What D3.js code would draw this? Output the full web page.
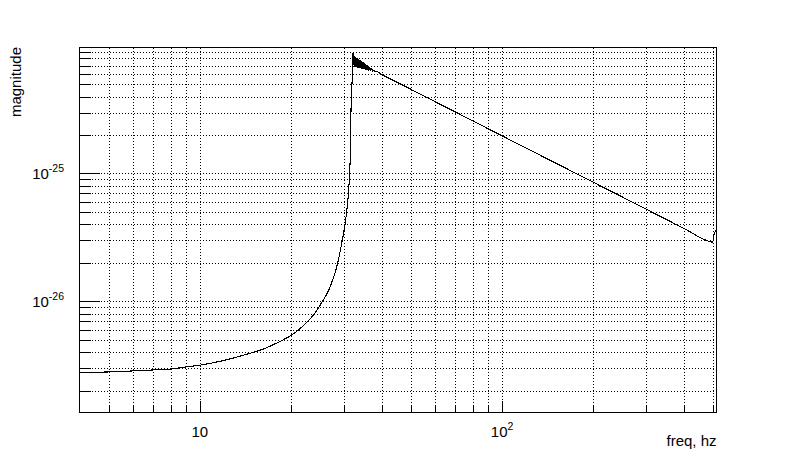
<!DOCTYPE html>
<html>
<head>
<meta charset="utf-8">
<script src="https://cdn.jsdelivr.net/npm/d3@7"></script>
<style>
  html, body { margin: 0; padding: 0; background: #fff; }
  svg { display: block; font-family: "Liberation Sans", Arial, sans-serif; }
</style>
</head>
<body>
<svg id="chart" width="796" height="474"></svg>
<script>
// ---- data ----
const freq = [4, 5, 6, 7, 8, 9, 10, 12, 14, 16.4, 18, 20, 21.5, 22.9, 24, 24.9, 26.9, 28.4, 29.6, 30.6, 31.3, 31.5,
  31.55, 31.75, 32.0, 32.1,
  32.28, 32.40, 32.53, 32.65, 32.78, 32.90, 33.03, 33.16, 33.29, 33.41, 33.54, 33.67, 33.80, 33.93, 34.06, 34.19,
  34.32, 34.45, 34.58, 34.72, 34.85, 34.98, 35.12, 35.25, 35.38, 35.52, 35.65, 35.79,
  35.93, 36.20, 36.48, 36.76, 37.04, 37.32, 37.60, 37.89, 38.18,
  40, 50, 60, 80, 100, 150, 200, 300, 400, 487, 497, 502, 510];
const magnitude = [2.76e-27, 2.80e-27, 2.85e-27, 2.90e-27, 2.95e-27, 3.06e-27, 3.16e-27, 3.44e-27, 3.80e-27, 4.27e-27, 4.72e-27, 5.40e-27, 6.13e-27, 7.08e-27, 8.03e-27, 9.19e-27, 1.27e-26, 1.87e-26, 3.0e-26, 5.0e-26, 1.0e-25, 1.5e-25,
  2.2e-25, 4.0e-25, 6.5e-25, 9.0e-25,
  8.35e-25, 6.83e-25, 8.24e-25, 6.80e-25, 8.12e-25, 6.77e-25, 8.02e-25, 6.74e-25, 7.92e-25, 6.72e-25, 7.82e-25, 6.69e-25, 7.72e-25, 6.66e-25, 7.62e-25, 6.63e-25,
  7.52e-25, 6.60e-25, 7.43e-25, 6.57e-25, 7.34e-25, 6.54e-25, 7.24e-25, 6.51e-25, 7.14e-25, 6.48e-25, 7.06e-25, 6.45e-25,
  6.98e-25, 6.42e-25, 6.80e-25, 6.36e-25, 6.66e-25, 6.30e-25, 6.45e-25, 6.25e-25, 6.31e-25,
  5.95e-25, 4.55e-25, 3.65e-25, 2.58e-25, 1.97e-25, 1.21e-25, 8.56e-26, 5.25e-26, 3.71e-26, 2.93e-26, 2.90e-26, 3.30e-26, 3.61e-26];

const xMajor = [10, 100];
const xMinor = [5, 6, 7, 8, 9, 20, 30, 40, 50, 60, 70, 80, 90, 200, 300, 400, 500];
const yMajor = [1e-26, 1e-25];
const yMinor = [2e-27, 3e-27, 4e-27, 5e-27, 6e-27, 7e-27, 8e-27, 9e-27,
  2e-26, 3e-26, 4e-26, 5e-26, 6e-26, 7e-26, 8e-26, 9e-26,
  2e-25, 3e-25, 4e-25, 5e-25, 6e-25, 7e-25, 8e-25, 9e-25];
const xTickLabels = [{ v: 10, base: "10", exp: "" }, { v: 100, base: "10", exp: "2" }];
const yTickLabels = [{ v: 1e-26, base: "10", exp: "-26" }, { v: 1e-25, base: "10", exp: "-25" }];
const xTitle = "freq, hz";
const yTitle = "magnitude";

// ---- layout ----
const L = 79.5, R = 716.5, T = 47, B = 412;
const svg = d3.select("#chart");
svg.append("rect").attr("width", 796).attr("height", 474).attr("fill", "#fff");

const x = d3.scaleLog().domain([4, 512]).range([L, R]);
const y = d3.scaleLog().domain([1.36e-27, 9.77e-25]).range([B, T]);

// grid (dotted)
const gridX = svg.append("g").attr("transform", `translate(0,${B})`)
  .call(d3.axisBottom(x).tickValues(xMajor.concat(xMinor)).tickSize(-(B - T)).tickFormat(() => ""));
const gridY = svg.append("g").attr("transform", `translate(${L},0)`)
  .call(d3.axisLeft(y).tickValues(yMajor.concat(yMinor)).tickSize(-(R - L)).tickFormat(() => ""));
[gridX, gridY].forEach(g => {
  g.select(".domain").remove();
  g.selectAll("line").attr("stroke", "#000").attr("stroke-dasharray", "1,2").attr("shape-rendering", "crispEdges");
});

// ticks (inside)
function ticks(axis, tr) {
  const g = svg.append("g").attr("transform", tr).call(axis);
  g.select(".domain").remove();
  g.selectAll("line").attr("stroke", "#000").attr("shape-rendering", "crispEdges");
  return g;
}
ticks(d3.axisBottom(x).tickValues(xMajor).tickSize(-11).tickFormat(() => ""), `translate(0,${B})`);
ticks(d3.axisBottom(x).tickValues(xMinor).tickSize(-6.5).tickFormat(() => ""), `translate(0,${B})`);
ticks(d3.axisLeft(y).tickValues(yMajor).tickSize(-20).tickFormat(() => ""), `translate(${L},0)`);
ticks(d3.axisLeft(y).tickValues(yMinor).tickSize(-11).tickFormat(() => ""), `translate(${L},0)`);

// frame
svg.append("rect").attr("x", L).attr("y", T).attr("width", R - L).attr("height", B - T)
  .attr("fill", "none").attr("stroke", "#000").attr("stroke-width", 1).attr("shape-rendering", "crispEdges");

// curve
const pts = freq.map((f, i) => [f, magnitude[i]]);
const line = d3.line().curve(d3.curveMonotoneX).x(d => x(d[0])).y(d => y(d[1]));
svg.append("path").datum(pts).attr("d", line).attr("fill", "none")
  .attr("stroke", "#000").attr("stroke-width", 1.1).attr("shape-rendering", "crispEdges");

// tick labels
xTickLabels.forEach(t => {
  const tx = svg.append("text").attr("x", x(t.v)).attr("y", 437).attr("text-anchor", "middle")
    .attr("font-size", 15).attr("fill", "#000");
  tx.append("tspan").text(t.base);
  if (t.exp) tx.append("tspan").attr("font-size", 10.5).attr("dy", -7).text(t.exp);
});
yTickLabels.forEach(t => {
  const tx = svg.append("text").attr("x", 64).attr("y", y(t.v) + 5.5).attr("text-anchor", "end")
    .attr("font-size", 15).attr("fill", "#000");
  tx.append("tspan").text(t.base);
  if (t.exp) tx.append("tspan").attr("font-size", 10.5).attr("dy", -7).text(t.exp);
});

// axis titles
svg.append("text").attr("x", R).attr("y", 446).attr("text-anchor", "end")
  .attr("font-size", 15).attr("fill", "#000").text(xTitle);
svg.append("text").attr("transform", `translate(21,${T}) rotate(-90)`).attr("text-anchor", "end")
  .attr("font-size", 15).attr("fill", "#000").text(yTitle);
</script>
</body>
</html>
